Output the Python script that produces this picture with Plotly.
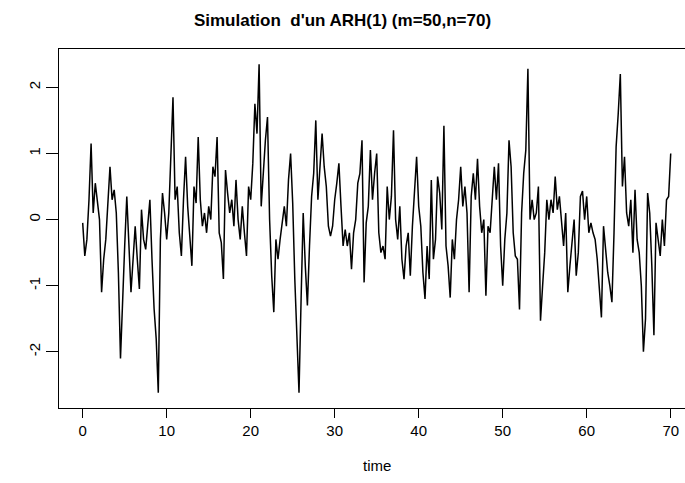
import plotly.graph_objects as go

# time step 0.25 from 0 to 70
t_start = 0.0
t_step = 0.25

values = [
    # t 0 - 11.5
    -0.05, -0.55, -0.3, 0.3, 1.15, 0.1, 0.55, 0.25, 0.0, -1.1, -0.6, -0.3,
    0.3, 0.8, 0.3, 0.45, 0.1, -0.8, -2.1, -1.1, -0.4, 0.35, -0.4, -1.1,
    -0.6, -0.1, -0.6, -1.05, 0.15, -0.3, -0.45, 0.0, 0.3, -0.6, -1.35, -1.8,
    -2.62, -0.3, 0.4, 0.1, -0.3, 0.1, 0.9, 1.85, 0.3, 0.5, -0.2,
    # t 11.75 - 24.5
    -0.55, 0.3, 0.95, 0.2, -0.3, -0.7, 0.5, 0.25, 1.25, 0.3, -0.1, 0.1,
    -0.2, 0.2, 0.0, 0.8, 0.65, 1.25, -0.2, -0.35, -0.9, 0.75, 0.4, 0.1,
    0.3, -0.1, 0.6, 0.0, -0.3, 0.2, -0.2, -0.55, 0.5, 0.3, 0.85, 1.75,
    1.3, 2.35, 0.2, 0.8, 1.2, 1.55, 0.0, -0.85, -1.4, -0.3, -0.6, -0.3,
    -0.05, 0.2, -0.1, 0.6,
    # t 24.75 - 37.75
    1.0, 0.25, -0.9, -1.65, -2.62, -1.2, 0.1, -0.7, -1.3, -0.4, 0.35, 0.7,
    1.5, 0.3, 0.9, 1.3, 0.8, 0.5, -0.1, -0.25, -0.1, 0.3, 0.55, 0.85,
    0.2, -0.4, -0.15, -0.4, -0.2, -0.75, -0.2, 0.0, 0.55, 0.7, 1.2, -0.95,
    -0.05, 0.2, 1.05, 0.3, 0.7, 1.0, -0.2, -0.5, -0.4, -0.6, 0.5, 0.0,
    0.35, 1.35, 0.0, -0.3, 0.2,
    # t 38 - 50.5
    -0.6, -0.9, -0.4, -0.2, -0.85, -0.1, 0.5, 0.95, 0.2, -0.1, -0.8, -1.2,
    -0.4, -0.9, 0.6, -0.6, -0.3, 0.65, 0.4, -0.15, 1.42, -0.4, -0.7, -1.18,
    -0.3, -0.6, 0.0, 0.3, 0.8, 0.2, 0.5, 0.1, -1.1, 0.35, 0.7, 0.3,
    0.92, 0.2, -0.2, 0.0, -1.15, -0.1, -0.2, 0.35, 0.8, 0.3, 0.85, -0.4,
    -1.0, -0.3, 0.1,
    # t 50.75 - 63.75
    1.2, 0.8, -0.2, -0.55, -0.6, -1.36, 0.1, 0.7, 1.05, 2.28, 0.0, 0.3,
    0.0, 0.1, 0.5, -1.53, -1.0, -0.5, 0.3, 0.0, 0.3, 0.1, 0.65, 0.15,
    0.35, -0.05, -0.4, 0.1, -1.1, -0.7, -0.4, 0.0, -0.85, -0.5, 0.35, 0.43,
    0.0, 0.35, -0.2, -0.05, -0.2, -0.3, -0.6, -1.1, -1.48, -0.1, -0.5, -0.8,
    -1.0, -1.25, -0.2, 1.1, 1.6,
    # t 64 - 70
    2.2, 0.5, 0.95, 0.1, -0.1, 0.3, -0.5, 0.45, -0.3, -0.5, -1.0, -2.0,
    -1.5, 0.4, 0.1, -0.7, -1.75, -0.05, -0.3, -0.55, 0.0, -0.4, 0.3, 0.35,
    1.0,
]
time = [t_start + i * t_step for i in range(len(values))]

x_ticks = [0, 10, 20, 30, 40, 50, 60, 70]
y_ticks = [-2, -1, 0, 1, 2]
y_tick_text = ["-2", "-1", "0", "1", "2"]

title_text = "Simulation  d'un ARH(1) (m=50,n=70)"
x_label = "time"

W, H = 685, 483
font = "Liberation Sans, Arial, sans-serif"

fig = go.Figure()
fig.add_trace(go.Scatter(x=time, y=values, mode="lines",
                         line=dict(color="black", width=1.5), showlegend=False))

fig.update_layout(
    width=W, height=H,
    margin=dict(l=59, r=0, t=49, b=75),
    paper_bgcolor="white", plot_bgcolor="white",
    font=dict(family=font, color="black", size=15),
    title=dict(text="<b>" + title_text + "</b>", x=0.5, xref="container",
               xanchor="center", y=1 - 20 / H, yref="container", yanchor="middle",
               font=dict(size=17, family=font, color="black")),
)
fig.update_xaxes(range=[-2.82, 71.7], tickvals=x_ticks, ticks="outside", ticklen=9,
                 tickwidth=1, tickcolor="black", showgrid=False, zeroline=False,
                 showline=True, linecolor="black", linewidth=1.2, mirror=True,
                 tickfont=dict(size=15, family=font))
fig.update_yaxes(range=[-2.85, 2.58], tickvals=y_ticks, ticktext=y_tick_text,
                 ticks="outside", ticklen=12, tickwidth=1, tickcolor="black",
                 tickangle=-90, showgrid=False, zeroline=False,
                 showline=True, linecolor="black", linewidth=1.2, mirror=False,
                 tickfont=dict(size=15, family=font))
fig.add_annotation(text=x_label, x=35, xref="x", y=0, yref="paper", yshift=-57,
                   showarrow=False, yanchor="middle", font=dict(size=15, family=font))

fig.write_html("out.html")
